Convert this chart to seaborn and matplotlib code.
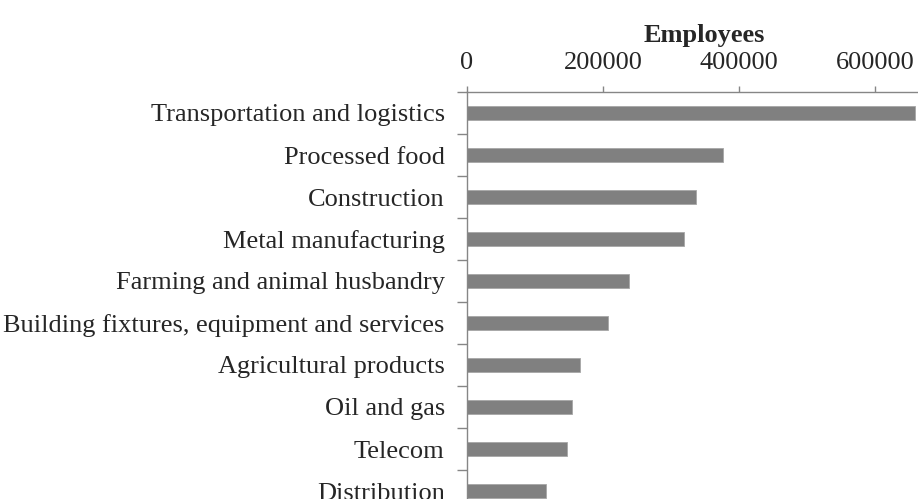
import seaborn as sns
import matplotlib.pyplot as plt
import pandas as pd
import numpy as np
from matplotlib.ticker import FixedLocator

sectors = ['Transportation and logistics', 'Processed food', 'Construction',
           'Metal manufacturing', 'Farming and animal husbandry',
           'Building fixtures, equipment and services', 'Agricultural products',
           'Oil and gas', 'Telecom', 'Distribution']
employees = [659000, 376000, 336000, 319000, 238000, 207000, 166000, 155000, 147000, 116000]
xticks = [0, 200000, 400000, 600000]

df = pd.DataFrame({'sector': sectors, 'employees': employees})

sns.set_style('white')
plt.rcParams['font.family'] = ['Liberation Serif', 'DejaVu Serif']

fig = plt.figure(figsize=(9.18, 4.99), dpi=100)
ax = fig.add_axes([467 / 918, -13 / 499, 451 / 918, 420 / 499])

sns.barplot(data=df, x='employees', y='sector', color='#808080', saturation=1,
            width=0.33, edgecolor='#a6a6a6', linewidth=0.6, ax=ax)

n = len(sectors)
ax.set_ylim(n - 0.5, -0.5)
ax.set_xlim(0, 663000)

axis_gray = '#868686'
for side in ['right', 'bottom']:
    ax.spines[side].set_visible(False)
for side in ['left', 'top']:
    ax.spines[side].set_color(axis_gray)
    ax.spines[side].set_linewidth(1.0)

ax.xaxis.tick_top()
ax.set_xticks(xticks)
ax.set_xticklabels([str(v) for v in xticks])
ax.tick_params(axis='x', which='major', direction='out', length=4, width=1,
               color=axis_gray, pad=9, labelsize=19, top=True, bottom=False)

ax.yaxis.set_minor_locator(FixedLocator(np.arange(-0.5, n, 1)))
ax.tick_params(axis='y', which='major', length=0, pad=16, labelsize=19)
ax.tick_params(axis='y', which='minor', direction='out', length=7, width=1,
               color=axis_gray, left=True)

ax.set_ylabel('')
ax.xaxis.set_label_position('top')
ax.set_xlabel('Employees', fontsize=19, fontweight='bold')
ax.xaxis.set_label_coords(0.525, 1.12)

plt.savefig('out.png', dpi=100)
